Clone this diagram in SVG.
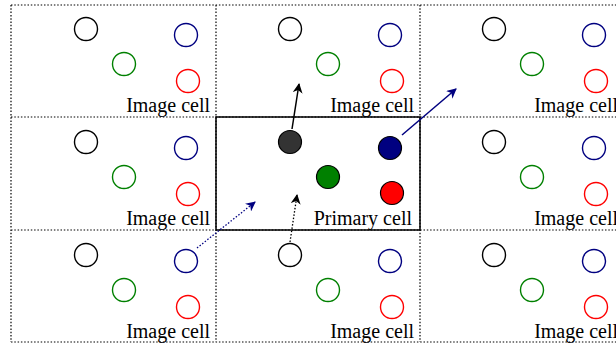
<svg xmlns="http://www.w3.org/2000/svg" width="616" height="345" viewBox="0 0 616 345">
<style>
.grid{fill:none;stroke:#000;stroke-width:1.2;stroke-dasharray:1.5 1.8}
.prim{fill:none;stroke:#000;stroke-width:1.5}
.lbl{font-family:'Liberation Serif','Times New Roman','DejaVu Serif',serif;font-size:20px;fill:#000;text-anchor:end}
.ok{fill:none;stroke:#000;stroke-width:1.4}
.og{fill:none;stroke:#008000;stroke-width:1.4}
.ob{fill:none;stroke:#000080;stroke-width:1.4}
.or{fill:none;stroke:#ff0000;stroke-width:1.4}
.fk{fill:#333;stroke:#000;stroke-width:1.2}
.fg{fill:#008000;stroke:#000;stroke-width:1.2}
.fb{fill:#000080;stroke:#000;stroke-width:1.2}
.fr{fill:#ff0000;stroke:#000;stroke-width:1.2}
</style>
<defs>
<marker id="ak" viewBox="0 0 10 10" refX="9" refY="5" markerWidth="10" markerHeight="10" markerUnits="userSpaceOnUse" orient="auto"><path d="M0,0 L10,5 L0,10 L3,5 Z" fill="#000"/></marker>
<marker id="ab" viewBox="0 0 10 10" refX="9" refY="5" markerWidth="10" markerHeight="10" markerUnits="userSpaceOnUse" orient="auto"><path d="M0,0 L10,5 L0,10 L3,5 Z" fill="#000080"/></marker>
<g id="cell">
<circle class="ok" cx="86" cy="29" r="11.5"/>
<circle class="og" cx="124" cy="64" r="11.5"/>
<circle class="ob" cx="186" cy="35" r="11.5"/>
<circle class="or" cx="188" cy="81" r="11.5"/>
<text class="lbl" x="210" y="112" font-family="Liberation Serif, serif">Image cell</text>
</g>
</defs>
<g id="grid">
<path class="grid" d="M11,5 H616 M11,117 H616 M11,230 H616 M11,342 H616 M11,5 V342 M216,5 V342 M420,5 V342"/>
</g>
<g id="cell-0-0"><use href="#cell" x="0" y="0"/></g>
<g id="cell-1-0"><use href="#cell" x="204" y="0"/></g>
<g id="cell-2-0"><use href="#cell" x="408" y="0"/></g>
<g id="cell-0-1"><use href="#cell" x="0" y="113"/></g>
<g id="cell-2-1"><use href="#cell" x="408" y="113"/></g>
<g id="cell-0-2"><use href="#cell" x="0" y="226"/></g>
<g id="cell-1-2"><use href="#cell" x="204" y="226"/></g>
<g id="cell-2-2"><use href="#cell" x="408" y="226"/></g>
<g id="primary">
<rect class="prim" x="216" y="117" width="204" height="113"/>
<circle class="fk" cx="290" cy="142" r="11.5"/>
<circle class="fg" cx="328" cy="177" r="11.5"/>
<circle class="fb" cx="390" cy="148" r="11.5"/>
<circle class="fr" cx="392" cy="193" r="11.5"/>
<text class="lbl" x="412" y="225" font-family="Liberation Serif, serif">Primary cell</text>
</g>
<g id="connectors">
<line x1="292" y1="129" x2="299" y2="84" stroke="#000" stroke-width="1.5" marker-end="url(#ak)"/>
<line x1="402" y1="135" x2="456" y2="89" stroke="#000080" stroke-width="1.5" marker-end="url(#ab)"/>
<line x1="197" y1="248" x2="255" y2="202" stroke="#000080" stroke-width="1.3" stroke-dasharray="1.5 1.8" marker-end="url(#ab)"/>
<line x1="290" y1="242" x2="297" y2="195" stroke="#000" stroke-width="1.3" stroke-dasharray="1.5 1.8" marker-end="url(#ak)"/>
</g>
</svg>
